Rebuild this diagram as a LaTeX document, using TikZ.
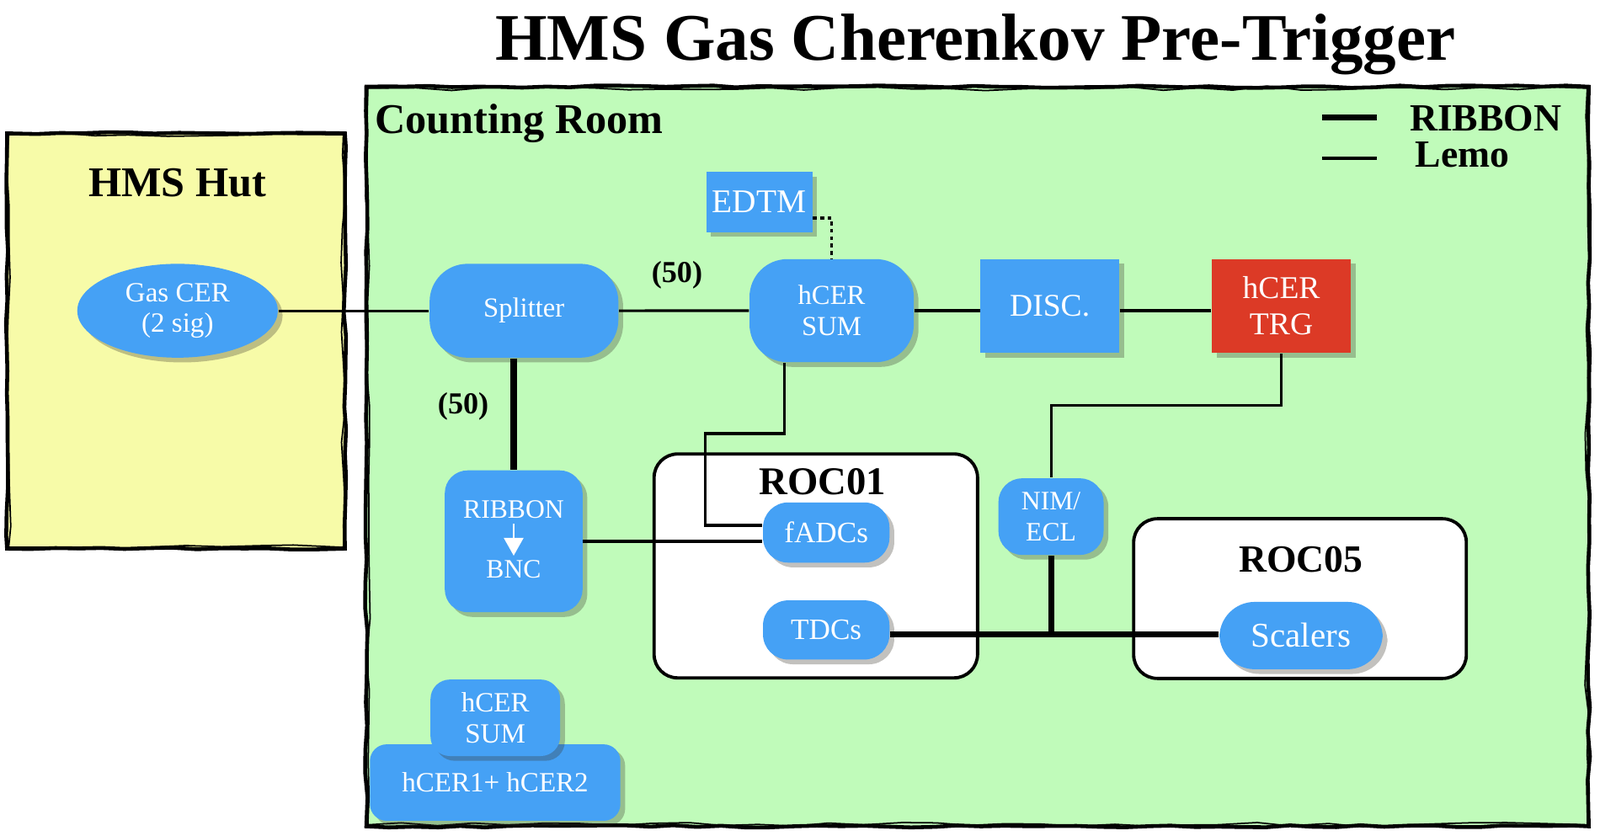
\documentclass[tikz,border=0pt]{standalone}
\usepackage{fontspec}
\setmainfont{Liberation Serif}
\usetikzlibrary{positioning,calc,shadows,shapes.geometric,decorations.pathmorphing,arrows.meta}

\definecolor{boxblue}{RGB}{69,161,245}
\definecolor{trgred}{RGB}{220,58,38}
\definecolor{roomgreen}{RGB}{192,251,186}
\definecolor{hutyellow}{RGB}{247,251,168}

\newcommand{\setfs}[2]{\fontsize{#1}{#2}\selectfont}

\begin{document}
\begin{tikzpicture}[x=0.12117mm, y=-0.12117mm,
	sz/.style 2 args={minimum width={#1*0.12117mm}, minimum height={#2*0.12117mm}},
	blk/.style={fill=boxblue, text=white, align=center, inner sep=0pt,
		drop shadow={shadow xshift=1.6pt, shadow yshift=-1.6pt, opacity=0.3, fill=black!80!olive}},
	rblk/.style={blk, rounded corners=#1},
	lemo/.style={line width=0.9pt},
	ribbon/.style={line width=2pt},
	sketch/.style={line width=1.3pt, decorate, decoration={random steps, segment length=8pt, amplitude=0.4pt}},
	roc/.style={draw, fill=white, line width=1.1pt, rounded corners=2.8mm, inner sep=0pt},
	lbl/.style={font=\bfseries\setfs{13.3}{16}, inner sep=0pt}]
	\useasboundingbox (0,0) rectangle (1568,818.7);

	\fill[hutyellow] (6.9,130.7) rectangle (338,537.8);
	\draw[sketch] (6.9,130.7) rectangle (338,537.8);
	\draw[sketch, line width=0.5pt, decoration={random steps, segment length=12pt, amplitude=0.8pt}] (8.5,132) rectangle (336.5,536.5);
	\fill[roomgreen] (359,85) rectangle (1557,810);
	\draw[sketch] (359,85) rectangle (1557,810);
	\draw[sketch, line width=0.5pt, decoration={random steps, segment length=12pt, amplitude=0.8pt}] (360.5,86.5) rectangle (1555.5,808.5);

	\node[font=\bfseries\setfs{22.5}{26}, anchor=base] (title) at (956,59) {HMS Gas Cherenkov Pre-Trigger};
	\node[font=\bfseries\setfs{14.3}{17}] (hut) at (174,178.8) {HMS Hut};
	\node[font=\bfseries\setfs{14.3}{17}, anchor=base west, inner sep=0pt] (room) at (367,130.7) {Counting Room};

	\coordinate (legA) at (1295.7,115.5);
	\coordinate (legB) at (1349.4,115.5);
	\coordinate (legC) at (1295.7,155.4);
	\coordinate (legD) at (1349.4,155.4);
	\node[font=\bfseries\setfs{13}{15}, anchor=west, inner sep=0pt] (legrib) at (1381,116.2) {RIBBON};
	\node[font=\bfseries\setfs{13}{15}, anchor=west, inner sep=0pt] (leglemo) at (1386.5,151.5) {Lemo};

	\node[roc, sz={317}{219.5}] (roc01) at (799.5,554.75) {};
	\node[lbl] (roc01lbl) at (806,472.6) {ROC01};
	\node[roc, sz={326}{156.5}] (roc05) at (1274,586.75) {};
	\node[lbl, font=\bfseries\setfs{13}{16}] (roc05lbl) at (1274.8,548.4) {ROC05};

	\node[blk, ellipse, sz={196.6}{92}, font=\setfs{9.4}{10.4}] (gascer) at (174,304.6) {Gas CER\\(2 sig)};
	\node[rblk=4.5mm, sz={185}{92}, font=\setfs{9.3}{11}] (split) at (513.5,304.6) {Splitter};
	\node[rblk=4.5mm, sz={161}{101}, font=\setfs{9.3}{10.4}] (hsum) at (815,304.5) {hCER\\SUM};
	\node[blk, sz={104}{59}, font=\setfs{11.2}{13}] (edtm) at (744,198) {EDTM};
	\node[blk, sz={136}{92}, font=\setfs{10.7}{12}] (disc) at (1028.8,300) {DISC.};
	\node[blk, fill=trgred, sz={136}{92}, font=\setfs{10.7}{12.2}] (trg) at (1255.7,300) {hCER\\TRG};

	\node[rblk=2.7mm, sz={135}{139}] (rb) at (503.4,530.6) {};
	\node[text=white, inner sep=1.5pt, font=\setfs{9}{10}] (rbtop) at (503.4,499.7) {RIBBON};
	\node[text=white, inner sep=1.5pt, font=\setfs{9}{10}] (rbbot) at (503.4,558.4) {BNC};
	\draw[white, line width=0.8pt, -{Triangle[width=6.5pt,length=6pt]}] (rbtop) -- (rbbot);

	\node[rblk=3mm, sz={124}{59}, font=\setfs{10}{12}] (fadc) at (809.7,522) {fADCs};
	\node[rblk=3mm, sz={124}{58}, font=\setfs{10}{12}] (tdc) at (809.7,617.5) {TDCs};
	\node[rblk=2.8mm, sz={103}{75}, font=\setfs{9}{10.3}] (nim) at (1030,506.4) {NIM/\\ECL};
	\node[rblk=4.2mm, sz={160}{66}, font=\setfs{11.7}{13}] (scal) at (1275,623) {Scalers};

	\node[rblk=2mm, sz={245.5}{75}, font=\setfs{9.4}{11}] (hsum12) at (485.25,767.1) {hCER1+ hCER2};
	\node[rblk=2.3mm, sz={127}{75}, font=\setfs{9.4}{10.4}] (hsumb) at (485.4,703.6) {hCER\\SUM};

	\node[font=\bfseries\setfs{10.3}{12}] (fifa) at (663.5,269.6) {(50)};
	\node[font=\bfseries\setfs{10.3}{12}] (fifb) at (454,398.6) {(50)};

	\coordinate (sumA) at (768.8,425);
	\coordinate (sumB) at (690.9,425);
	\coordinate (sumC) at (690.9,515);
	\coordinate (trgA) at (1030,397.6);
	\coordinate (bus) at (1030,622);

	\draw[ribbon] (legA) -- (legB);
	\draw[lemo, line width=1.1pt] (legC) -- (legD);
	\draw[lemo] (gascer.east) -- (split.west);
	\draw[lemo] (split.east) -- (hsum.west);
	\draw[lemo] (hsum.east) -- (hsum.east -| disc.west);
	\draw[lemo] (hsum.east -| disc.east) -- (hsum.east -| trg.west);
	\draw[lemo, dash pattern=on 1.3pt off 1.2pt] ($(edtm.east)+(0,15.7)$) -| (hsum.north);
	\draw[ribbon] (rb.north |- split.south) -- (rb.north);
	\draw[lemo] (rb.east) -- (rb.east -| fadc.west);
	\draw[lemo] (sumA |- hsum.south) -- (sumA) -- (sumB) -- (sumC) -- (sumC -| fadc.west);
	\draw[lemo] (trg.south) |- (trgA) -- (nim.north);
	\draw[ribbon] (nim.south) -- (bus);
	\draw[ribbon] (bus -| tdc.east) -- (bus -| scal.west);
\end{tikzpicture}
\end{document}
